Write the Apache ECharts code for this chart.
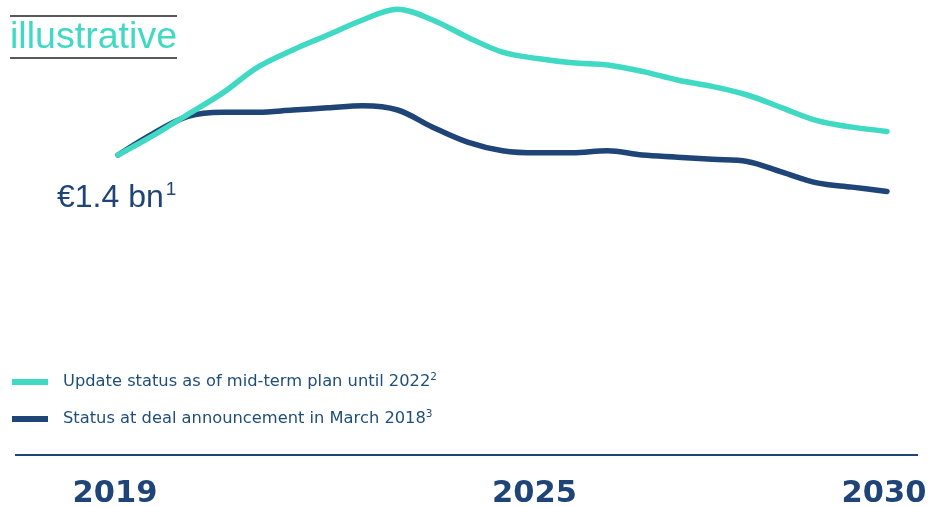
<!DOCTYPE html>
<html>
<head>
<meta charset="utf-8">
<script src="https://cdn.jsdelivr.net/npm/echarts@6/dist/echarts.min.js"></script>
<style>
html,body{margin:0;padding:0;background:#fff;}
#c{width:928px;height:507px;}
</style>
</head>
<body>
<div id="c"></div>
<script>
// ---- data (illustrative, € bn) ----
const years = [2019, 2019.5, 2020, 2020.5, 2021, 2021.5, 2022, 2022.5, 2023, 2023.5, 2024, 2024.5,
               2025, 2025.5, 2026, 2026.5, 2027, 2027.5, 2028, 2028.5, 2029, 2029.5, 2030];
const updateStatus = [1.40, 1.49, 1.59, 1.69, 1.81, 1.89, 1.96, 2.03, 2.08, 2.03, 1.95, 1.88,
                      1.85, 1.83, 1.82, 1.79, 1.75, 1.72, 1.68, 1.62, 1.56, 1.53, 1.51];
const dealStatus = [1.40, 1.50, 1.58, 1.60, 1.60, 1.61, 1.62, 1.63, 1.61, 1.53, 1.46, 1.42,
                    1.41, 1.41, 1.42, 1.40, 1.39, 1.38, 1.37, 1.32, 1.27, 1.25, 1.23];
const tickYears = [2019, 2025, 2030];
const seriesNames = ['Update status as of mid-term plan until 2022', 'Status at deal announcement in March 2018'];
const footnotes = ['2', '3'];
const startFootnote = '1';
const stampText = 'illustrative';

const TEAL = '#40d9c4';
const NAVY = '#1f4477';
const TXT = '#1f4e7a';

const chart = echarts.init(document.getElementById('c'), null, {renderer: 'canvas'});
const pairs = arr => years.map((y, i) => [y, arr[i]]);

chart.setOption({
  animation: false,
  backgroundColor: '#fff',
  grid: {left: 118, right: 41, top: 5, bottom: 52, containLabel: false, outerBoundsMode: 'none'},
  xAxis: {
    type: 'value', min: 2019, max: 2030,
    axisLine: {show: false}, axisTick: {show: false}, splitLine: {show: false},
    axisLabel: {
      customValues: tickYears,
      margin: 24,
      padding: [0, 6, 0, 0],
      fontFamily: 'DejaVu Sans', fontWeight: 'bold', fontSize: 30.5, color: NAVY,
      formatter: v => String(v)
    }
  },
  yAxis: {type: 'value', min: 0, max: 2.1, show: false, splitLine: {show: false}},
  legend: {
    data: [seriesNames[0], seriesNames[1]],
    orient: 'vertical', left: 12, top: 372, padding: 0,
    icon: 'rect', itemWidth: 36, itemHeight: 6, itemGap: 17,
    selectedMode: false,
    formatter: name => name + '{sup|' + footnotes[seriesNames.indexOf(name)] + '}',
    textStyle: {
      fontFamily: 'DejaVu Sans', fontSize: 16.3, color: TXT, lineHeight: 20, padding: [0, 0, 0, 10],
      rich: {sup: {fontFamily: 'DejaVu Sans', fontSize: 10.5, color: TXT, verticalAlign: 'top', lineHeight: 14}}
    }
  },
  series: [
    {
      name: seriesNames[1], type: 'line', data: pairs(dealStatus), smooth: 0.35,
      symbol: 'none', color: NAVY, z: 2,
      lineStyle: {width: 5.5, color: NAVY, cap: 'round', join: 'round'}
    },
    {
      name: seriesNames[0], type: 'line', data: pairs(updateStatus), smooth: 0.35,
      symbol: 'none', color: TEAL, z: 3,
      lineStyle: {width: 5.5, color: TEAL, cap: 'round', join: 'round'}
    }
  ],
  graphic: [
    {type: 'line', shape: {x1: 15, y1: 455, x2: 918, y2: 455}, style: {stroke: NAVY, lineWidth: 2}},
    {type: 'line', shape: {x1: 10, y1: 16, x2: 177, y2: 16}, style: {stroke: '#222', lineWidth: 1.3}},
    {type: 'line', shape: {x1: 10, y1: 58, x2: 177, y2: 58}, style: {stroke: '#222', lineWidth: 1.3}},
    {type: 'text', left: 10, top: 19, style: {text: stampText, fontFamily: 'Liberation Sans', fontSize: 37.6, fill: TEAL}},
    {type: 'text', left: 57, top: 180, style: {
      text: '{a|€' + dealStatus[0] + ' bn}{s|' + startFootnote + '}',
      rich: {
        a: {fontFamily: 'Liberation Sans', fontSize: 32, fill: NAVY, lineHeight: 36},
        s: {fontFamily: 'Liberation Sans', fontSize: 19, fill: NAVY, verticalAlign: 'top', lineHeight: 28, padding: [0, 0, 0, 2]}
      }
    }}
  ]
});
</script>
</body>
</html>
